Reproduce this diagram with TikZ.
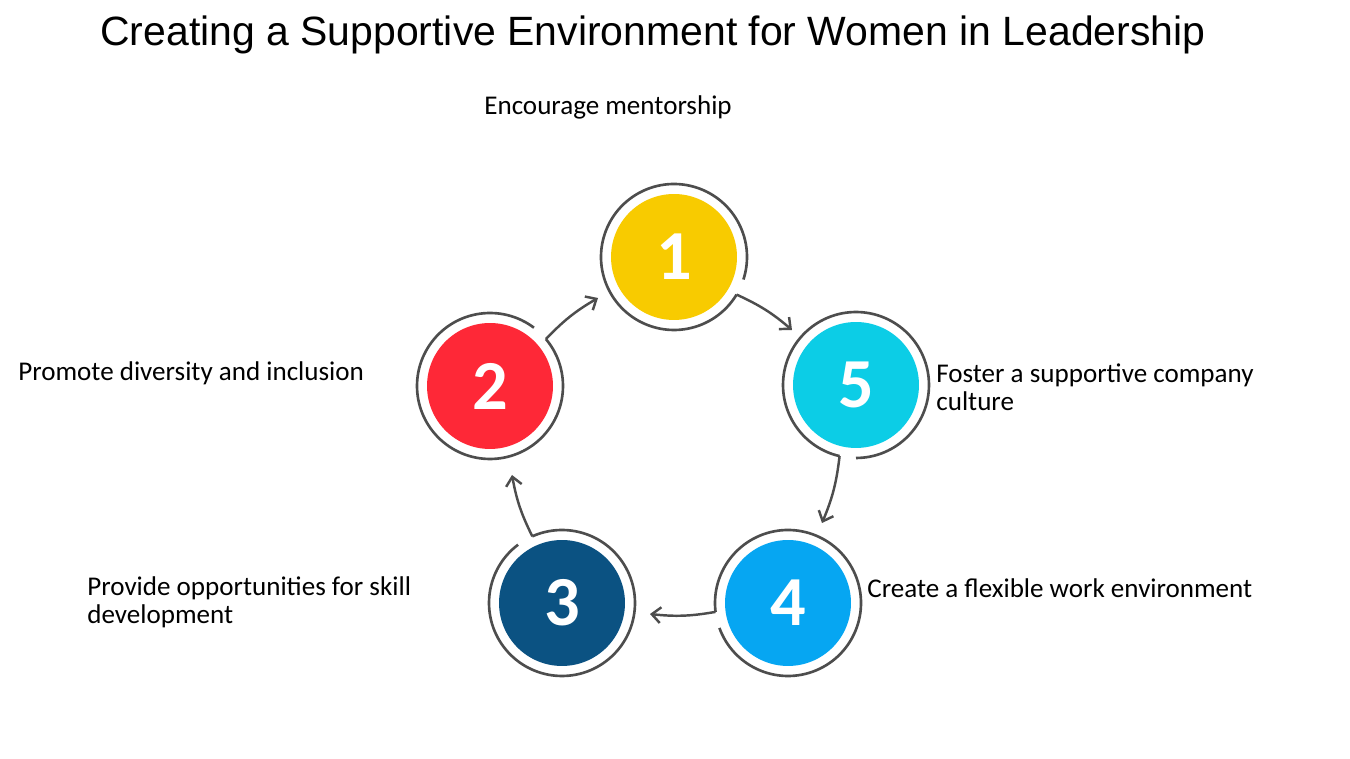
\documentclass[tikz,border=0pt]{standalone}
\usepackage{fontspec}
\setmainfont{Carlito}
\newfontfamily\titlefont{Liberation Sans}
\usetikzlibrary{calc, arrows.meta}
\definecolor{cone}{HTML}{F8CB00}
\definecolor{ctwo}{HTML}{FE2837}
\definecolor{cthree}{HTML}{0B5282}
\definecolor{cfour}{HTML}{06A6F2}
\definecolor{cfive}{HTML}{0CCDE6}
\definecolor{ringgray}{HTML}{4D4D4D}
\tikzset{
	stepfill/.style={circle, minimum size=2.52cm, inner sep=0pt, text=white, font=\fontsize{40}{42}\selectfont\bfseries},
	ring/.style={draw=ringgray, line width=1.5pt},
	flow/.style={draw=ringgray, line width=1.4pt, -{Straight Barb[length=5pt, width=9pt]}},
	lbl/.style={anchor=west, align=left, font=\fontsize{15.4}{15.9}\selectfont, inner sep=0pt}
}
\begin{document}
\begin{tikzpicture}[x=0.02cm, y=-0.02cm]
\useasboundingbox (0,0) rectangle (1350,759);
%Title
\node (title) at (653,35) {\titlefont\fontsize{23.3}{26}\selectfont Creating a Supportive Environment for Women in Leadership};
%Circles: name/x/y/colour/angle where the arrow leaves
\foreach \n/\x/\y/\c/\a in {c1/674/257/cone/-31, c2/490/386/ctwo/40, c3/562/603/cthree/114, c4/788/603/cfour/187, c5/856/385/cfive/-103} {
	\node[stepfill, fill=\c] (\n) at (\x,\y) {};
	\draw[ring] ($(\n)+(\a+13:1.46cm)$) arc[start angle=\a+13, end angle=\a+360, radius=1.46cm];
	\coordinate (s\n) at ($(\n)+(\a:1.46cm)$);
}
\node[stepfill] at (c1) {1};
\node[stepfill] at (c2) {2};
\node[stepfill] at (c3) {3};
\node[stepfill] at (c4) {4};
\node[stepfill] at (c5) {5};
%Arrow ends
\coordinate (e1) at (598,298);
\coordinate (e5) at (792,330);
\coordinate (e4) at (822,523);
\coordinate (e3) at (650,614);
\coordinate (e2) at (512,475);
\draw[flow] (sc2) to[bend left=8] (e1);
\draw[flow] (sc1) to[bend left=8] (e5);
\draw[flow] (sc5) to[bend left=8] (e4);
\draw[flow] (sc4) to[bend left=8] (e3);
\draw[flow] (sc3) to[bend left=8] (e2);
%Labels
\node[lbl] (l1) at (484,107) {Encourage mentorship};
\node[lbl] (l2) at (18,373) {Promote diversity and inclusion};
\node[lbl] (l5) at (936,387) {Foster a supportive company\\culture};
\node[lbl] (l4) at (867,588) {Create a flexible work environment};
\node[lbl] (l3) at (87,602) {Provide opportunities for skill\\development};
\end{tikzpicture}
\end{document}
